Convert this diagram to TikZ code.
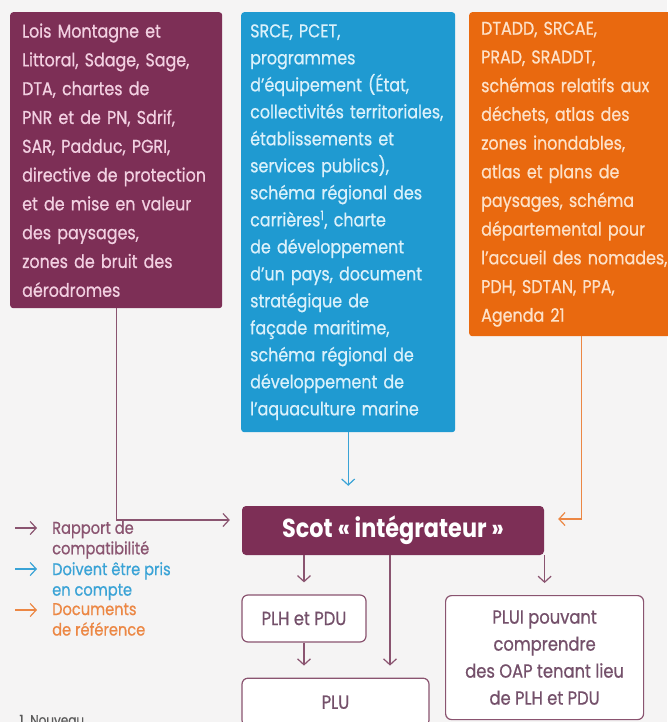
\documentclass[tikz,border=0pt]{standalone}
\usepackage{fontspec}
\setmainfont[FakeStretch=0.86, UprightFeatures={FakeBold=0.7}]{Poppins}
\usetikzlibrary{positioning, arrows.meta}
\definecolor{clrscot}{HTML}{7D2F56}
\definecolor{clrscot_text}{HTML}{F2D0E1}
\definecolor{clrprise}{HTML}{1F9AD1}
\definecolor{clrprise_text}{HTML}{DAF1FB}
\definecolor{clrref}{HTML}{E9690F}
\definecolor{clrref_text}{HTML}{FDE1C8}
\definecolor{clrline}{HTML}{8A5470}
\definecolor{clrline_blue}{HTML}{3AA3D6}
\definecolor{clrline_orange}{HTML}{EC8744}
\definecolor{clrtext}{HTML}{74506A}
\definecolor{clrnote}{HTML}{5A5A5A}
\definecolor{clrbg}{HTML}{F5F4F4}

\begin{document}
\begin{tikzpicture}[
    x=1pt, y=-1pt,
    >={Straight Barb[length=6pt, width=13pt]},
    docbox/.style={rounded corners=3pt, anchor=north west, inner xsep=12pt,
                   align=left, font=\fontsize{18.5}{28.8}\selectfont},
    block/.style={draw=clrline, fill=white, rounded corners=6pt, line width=1.2pt,
                  text=clrtext, align=center, font=\fontsize{19}{27}\selectfont},
    arrow/.style={->, color=clrline, line width=1.2pt},
    arrow_blue/.style={->, color=clrline_blue, line width=1.2pt},
    arrow_orange/.style={->, color=clrline_orange, line width=1.2pt},
    legend/.style={anchor=north west, align=left, inner sep=0pt,
                   font=\fontsize{17}{20.5}\selectfont},
]
\fill[clrbg] (0,0) rectangle (667,722);
\useasboundingbox (0,0) rectangle (667,722);

% documents en amont
\node[docbox, fill=clrscot, text=clrscot_text, text width=188pt,
      minimum width=212pt, minimum height=296pt] (n_1) at (10,12)
  {Lois Montagne et\\Littoral, Sdage, Sage,\\DTA, chartes de\\PNR et de PN, Sdrif,\\SAR, Padduc, PGRI,\\directive de protection\\et de mise en valeur\\des paysages,\\zones de bruit des\\aérodromes};
\node[docbox, fill=clrprise, text=clrprise_text, text width=196pt, inner xsep=9pt,
      minimum width=214pt, minimum height=420pt, font=\fontsize{18.5}{27}\selectfont] (n_2) at (241,12)
  {SRCE, PCET,\\programmes\\d'équipement (État,\\collectivités territoriales,\\établissements et\\services publics),\\schéma régional des\\carrières\textsuperscript{1}, charte\\de développement\\d'un pays, document\\stratégique de\\façade maritime,\\schéma régional de\\développement de\\l'aquaculture marine};
\node[docbox, fill=clrref, text=clrref_text, text width=200pt,
      minimum width=214pt, minimum height=324pt, font=\fontsize{18.5}{28.7}\selectfont] (n_3) at (469,12)
  {DTADD, SRCAE,\\PRAD, SRADDT,\\schémas relatifs aux\\déchets, atlas des\\zones inondables,\\atlas et plans de\\paysages, schéma\\départemental pour\\l'accueil des nomades,\\PDH, SDTAN, PPA,\\Agenda 21};

% scot et documents en aval
\node[fill=clrscot, rounded corners=4pt, minimum width=302pt, minimum height=49pt,
      text=white, font=\fontsize{26}{28}\selectfont\bfseries] (n_4) at (393,530.5)
  {Scot « intégrateur »};
\node[block, minimum width=124pt, minimum height=47pt] (n_5) at (304,618.5) {PLH et PDU};
\node[block, minimum width=187pt, minimum height=48pt, below=35pt of n_5.south west, anchor=north west] (n_6) {PLU};
\node[block, minimum width=198pt, minimum height=124pt, anchor=north west] (n_7) at (445,595)
  {PLUI pouvant\\comprendre\\des OAP tenant lieu\\de PLH et PDU};

\draw[arrow] (n_1.south) |- ([xshift=-12pt]n_4.west |- 0,520);
\draw[arrow_blue, shorten >=20pt] (n_2.south) -- (n_2.south |- n_4.north);
\draw[arrow_orange] (n_3.south) |- ([xshift=14pt]n_4.east |- 0,519);
\draw[arrow, shorten >=12pt] (n_4.south -| n_5.north) -- (n_5.north);
\draw[arrow, shorten >=12pt] (n_4.south -| n_7.north) -- (n_7.north);
\draw[arrow, shorten >=12pt] (n_5.south) -- (n_5.south |- n_6.north);
\draw[arrow, shorten >=12pt] (n_4.south -| 390,0) -- (n_6.north -| 390,0);

% legende
\node[legend, text=clrline] (l_1) at (52,521) {Rapport de\\compatibilité};
\node[legend, text=clrline_blue] (l_2) at (52,562) {Doivent être pris\\en compte};
\node[legend, text=clrline_orange] (l_3) at (52,603) {Documents\\de référence};
\draw[arrow] ([xshift=-37pt, yshift=-7pt]l_1.north west) -- ([xshift=-15pt, yshift=-7pt]l_1.north west);
\draw[arrow_blue] ([xshift=-37pt, yshift=-7pt]l_2.north west) -- ([xshift=-15pt, yshift=-7pt]l_2.north west);
\draw[arrow_orange] ([xshift=-37pt, yshift=-7pt]l_3.north west) -- ([xshift=-15pt, yshift=-7pt]l_3.north west);
\node[anchor=west, text=clrnote, font=\fontsize{14}{16}\selectfont] (f_1) at (16,720) {1. Nouveau};
\end{tikzpicture}
\end{document}
